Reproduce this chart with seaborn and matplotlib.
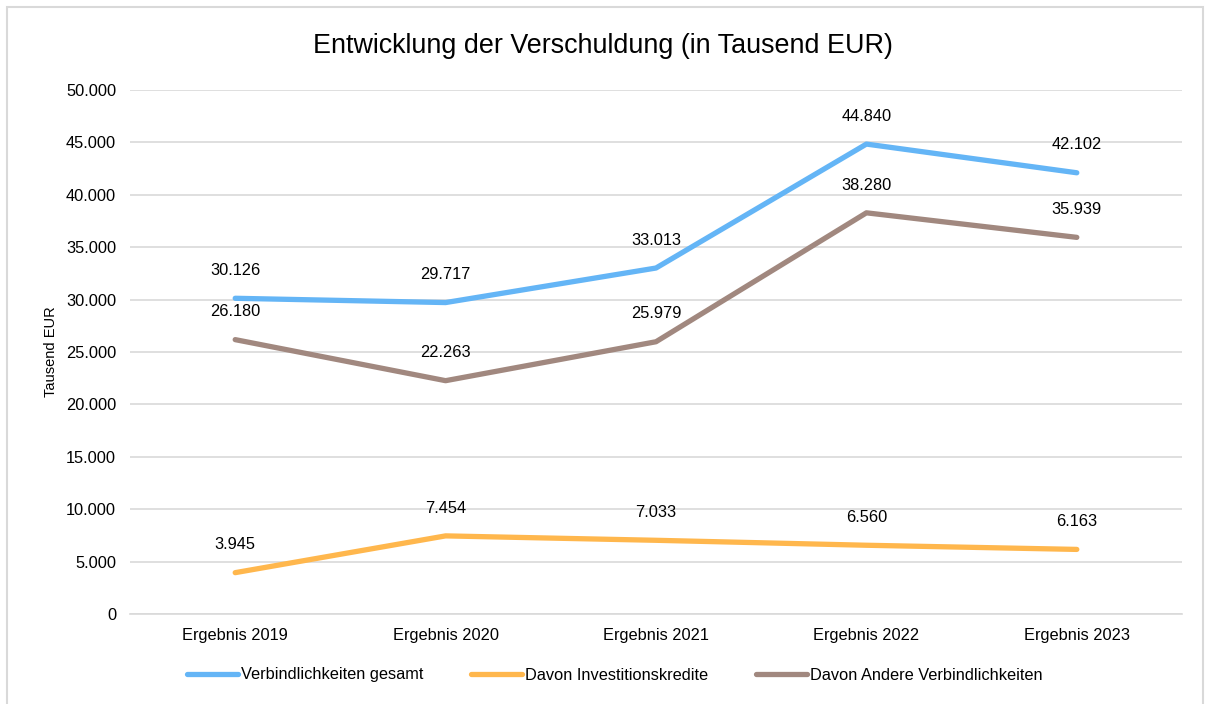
import seaborn as sns
import matplotlib.pyplot as plt
import pandas as pd
from matplotlib.patches import Rectangle
from matplotlib.ticker import FuncFormatter

# Daten (Tausend EUR)
jahre = ["Ergebnis 2019", "Ergebnis 2020", "Ergebnis 2021", "Ergebnis 2022", "Ergebnis 2023"]
gesamt = [30126, 29717, 33013, 44840, 42102]
investition = [3945, 7454, 7033, 6560, 6163]
andere = [26180, 22263, 25979, 38280, 35939]

serien = ["Verbindlichkeiten gesamt", "Davon Investitionskredite", "Davon Andere Verbindlichkeiten"]
farben = ["#64B5F6", "#FFB74D", "#A1887F"]


def de_format(v, pos=None):
    return f"{v:,.0f}".replace(",", ".")


if __name__ == '__main__':
    df = pd.DataFrame({
        "Jahr": jahre * 3,
        "Wert": gesamt + investition + andere,
        "Serie": [serien[0]] * 5 + [serien[1]] * 5 + [serien[2]] * 5,
    })

    sns.set_style("white")
    plt.rcParams['font.family'] = ['Liberation Sans', 'DejaVu Sans']
    plt.rcParams['text.color'] = "#000000"

    fs = 11.8
    fig = plt.figure(figsize=(12.05, 7.04), dpi=100)
    ax = fig.add_axes([130 / 1205, 1 - 614 / 704, (1182 - 130) / 1205, (614 - 90) / 704])

    sns.lineplot(data=df, x="Jahr", y="Wert", hue="Serie", palette=farben,
                 linewidth=3.8, sort=False, ax=ax, legend=False,
                 solid_capstyle="round")

    # Datenbeschriftungen
    for werte in [gesamt, investition, andere]:
        for i, v in enumerate(werte):
            ax.annotate(de_format(v), (i, v), xytext=(0, 20), textcoords="offset points",
                        ha="center", va="center", fontsize=fs, color="#000000")

    ax.set_xlim(-0.5, 4.5)
    ax.set_ylim(0, 50000)
    ax.set_yticks(range(0, 50001, 5000))
    ax.yaxis.set_major_formatter(FuncFormatter(de_format))
    ax.grid(axis="y", color="#D9D9D9", linewidth=1.2)
    ax.set_axisbelow(True)
    for s in ax.spines.values():
        s.set_visible(False)
    ax.spines["bottom"].set_visible(True)
    ax.spines["bottom"].set_color("#D9D9D9")
    ax.spines["bottom"].set_linewidth(1.2)
    ax.tick_params(axis="both", length=0, labelsize=fs, colors="#000000")
    ax.tick_params(axis="y", pad=10)
    ax.tick_params(axis="x", pad=10)
    ax.set_xlabel("")
    ax.set_ylabel("Tausend EUR", fontsize=10.5, labelpad=6, color="#000000")

    fig.suptitle("Entwicklung der Verschuldung (in Tausend EUR)", fontsize=19.4,
                 y=1 - 46 / 704, va="center", color="#000000")

    handles = [plt.Line2D([0], [0], color=c, lw=3.8, solid_capstyle="round") for c in farben]
    fig.legend(handles, serien, loc="center", bbox_to_anchor=(615 / 1205, 1 - 675 / 704),
               ncol=3, frameon=False, fontsize=fs, handlelength=3.1, handletextpad=0.2,
               columnspacing=2.9)

    # Rahmen
    fig.add_artist(Rectangle((7 / 1205, -0.02), (1203 - 7) / 1205, 1 - 7 / 704 + 0.02,
                             transform=fig.transFigure, fill=False, edgecolor="#D9D9D9", lw=1.5))

    fig.savefig("out.png", dpi=100)
